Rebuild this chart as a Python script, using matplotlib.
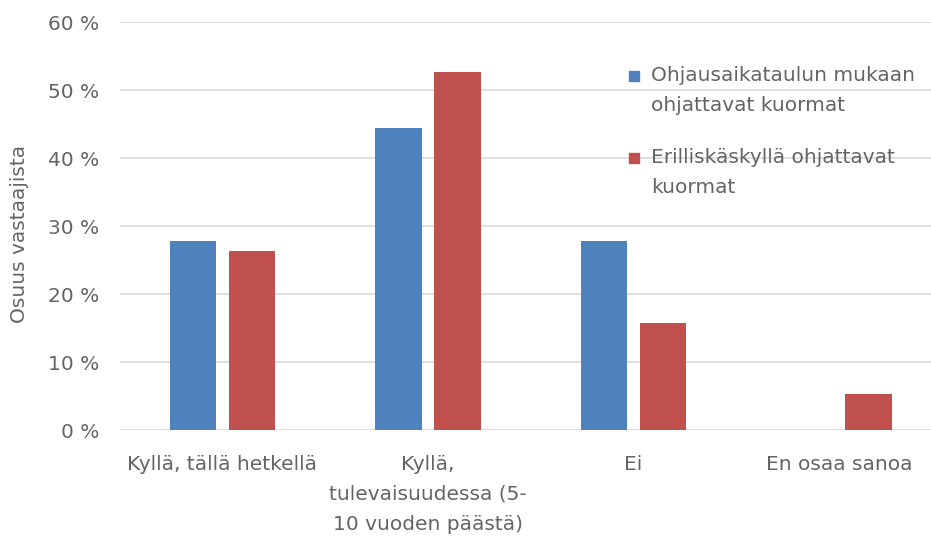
import numpy as np
from matplotlib import pyplot as plt
from matplotlib.patches import Rectangle

# data
categories = ["Kyllä, tällä hetkellä",
              "Kyllä,\ntulevaisuudessa (5-\n10 vuoden päästä)",
              "Ei",
              "En osaa sanoa"]
series_names = ["Ohjausaikataulun mukaan\nohjattavat kuormat",
                "Erilliskäskyllä ohjattavat\nkuormat"]
schedule_vals = [27.8, 44.4, 27.8, 0.0]
command_vals = [26.3, 52.6, 15.8, 5.3]
yticks = [0, 10, 20, 30, 40, 50, 60]
ytick_labels = ["{} %".format(v) for v in yticks]

BLUE = "#4f81bd"
RED = "#c0504d"
TXT = "#646464"
GRID = "#e0e0e0"
FS = 14.5
LS = 1.72

plt.rcParams['font.family'] = ['DejaVu Sans']

W, H = 931, 538
fig = plt.figure(figsize=(9.31, 5.38), dpi=100)
ax = fig.add_axes([119.75 / W, 108 / H, 822 / W, 408 / H])

x = np.arange(len(categories))
w = 0.224
off = 0.1435
ax.bar(x - off, schedule_vals, w, color=BLUE, zorder=3)
ax.bar(x + off, command_vals, w, color=RED, zorder=3)

ax.set_xlim(-0.5, len(categories) - 0.5)
ax.set_ylim(0, 60)
ax.set_yticks(yticks)
ax.set_yticklabels(ytick_labels, fontsize=FS, color=TXT)
ax.set_xticks(x)
ax.set_xticklabels(categories, fontsize=FS, color=TXT, linespacing=LS, va='top')
ax.tick_params(axis='both', length=0)
ax.tick_params(axis='y', pad=15)
ax.tick_params(axis='x', pad=18)

for s in ax.spines.values():
    s.set_visible(False)
ax.yaxis.grid(True, color=GRID, linewidth=1.5, zorder=0)
ax.set_axisbelow(True)

ax.set_ylabel("Osuus vastaajista", fontsize=FS, color=TXT)
ax.yaxis.set_label_coords(-91 / 822, 0.48)

# legend, square aligned with the first text line as in the original
leg_colors = [BLUE, RED]
leg_tops = [66, 148]
for name, col, top in zip(series_names, leg_colors, leg_tops):
    fig.patches.append(Rectangle((629 / W, 1 - (top + 15) / H), 10 / W, 10 / H,
                                 transform=fig.transFigure, color=col))
    fig.text(651 / W, 1 - top / H, name, fontsize=FS, color=TXT,
             va='top', ha='left', linespacing=LS)

fig.savefig("out.png", dpi=100)
